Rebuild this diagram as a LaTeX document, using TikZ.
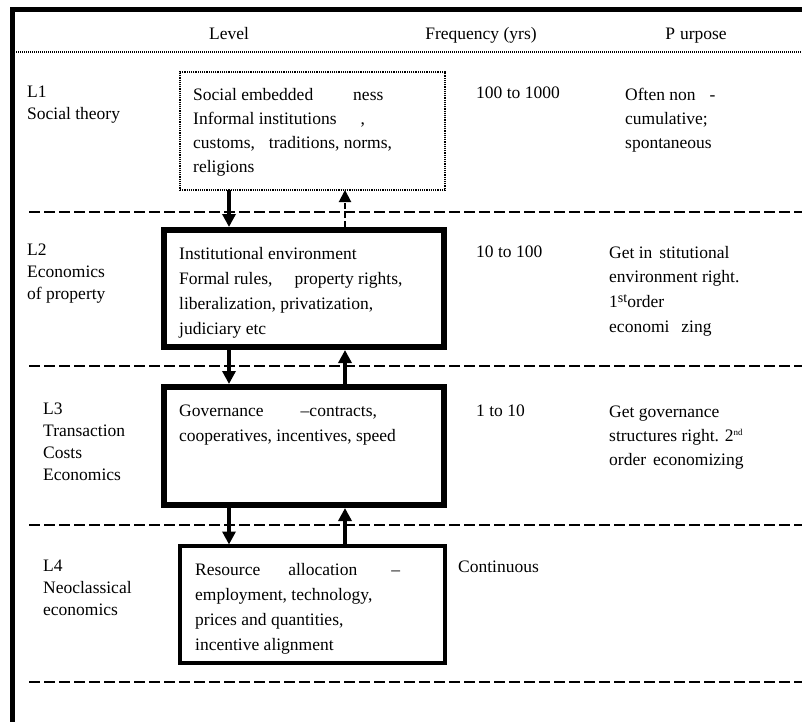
\documentclass[tikz,border=0pt]{standalone}
\usepackage{fontspec}
\setmainfont{Liberation Serif}
\usetikzlibrary{arrows.meta}
\begin{document}
\begin{tikzpicture}[x=1pt,y=-1pt,
  txt/.style={anchor=base west, inner sep=0pt, align=left, font=\fontsize{17.5}{24}\selectfont},
  mtxt/.style={anchor=north west, inner sep=0pt, align=left, font=\fontsize{17.5}{24}\selectfont},
  lbl/.style={anchor=north west, inner sep=0pt, align=left, font=\fontsize{17.5}{22}\selectfont},
  boxtxt/.style={anchor=north west, inner sep=0pt, align=left, font=\fontsize{17.5}{25}\selectfont},
  purp/.style={anchor=north west, inner sep=0pt, align=left, font=\fontsize{17.5}{24.6}\selectfont},
  hdr/.style={anchor=base, inner sep=0pt, font=\fontsize{17.5}{21}\selectfont},
  sep/.style={line width=2.5pt, dash pattern=on 10.5pt off 4.5pt},
  frame/.style={line width=4.5pt},
  thickbox/.style={draw, line width=6pt, inner sep=0pt, outer sep=0pt, anchor=north west},
  thinbox/.style={draw, line width=3.5pt, inner sep=0pt, outer sep=0pt, anchor=north west},
  dotbox/.style={draw, line width=1.3pt, dash pattern=on 1.2pt off 1pt, inner sep=0pt, outer sep=0pt, anchor=north west},
  arr/.style={line width=4pt, -{Triangle[length=13pt,width=13pt]}},
  darr/.style={line width=2pt, dash pattern=on 6pt off 3pt, -{Triangle[length=12pt,width=12pt]}}
]
\useasboundingbox (0,0) rectangle (802,722);

% frame
\draw[frame] (802,9.5) -- (12.5,9.5) -- (12.5,722);
% header rule
\draw[line width=1.5pt, dash pattern=on 1pt off 1pt] (12,52) -- (802,52);
% separators
\draw[sep] (29,212) -- (802,212);
\draw[sep] (29,366) -- (802,366);
\draw[sep] (29,525) -- (802,525);
\draw[sep] (29,682) -- (802,682);

% header
\node[hdr] (hLevel) at (229,40) {Level};
\node[hdr] (hFreq) at (481,40) {Frequency (yrs)};
\node[hdr] (hPurp) at (696,40) {P\hspace{5pt}urpose};

% boxes
\node[dotbox, minimum width=265pt, minimum height=118pt] (b1) at (180,72) {};
\node[thickbox, minimum width=280pt, minimum height=117pt] (b2) at (164,230) {};
\node[thickbox, minimum width=280pt, minimum height=118pt] (b3) at (164,387) {};
\node[thinbox, minimum width=265pt, minimum height=117pt] (b4) at (180,546) {};

% row 1
\node[lbl] (l1) at (27,86) {L1\\Social theory};
\node[mtxt] (t1) at (193,88) {Social embedded\hspace{40pt}ness\\Informal institutions\hspace{24pt},\\customs,\hspace{14pt}traditions, norms,\\religions};
\node[txt] (f1) at (476,99) {100 to 1000};
\node[mtxt] (p1) at (625,88) {Often non\hspace{14pt}-\\cumulative;\\spontaneous};

% row 2
\node[lbl] (l2) at (27,244) {L2\\Economics\\of property};
\node[boxtxt] (t2) at (179,247) {Institutional environment\\Formal rules,\hspace{22pt}property rights,\\liberalization, privatization,\\judiciary etc};
\node[txt] (f2) at (476,257) {10 to 100};
\node[purp] (p2) at (609,246) {Get in\hspace{7pt}stitutional\\environment right.\\1\raisebox{5pt}{\fontsize{14}{14}\selectfont st}order\\economi\hspace{12pt}zing};

% row 3
\node[lbl] (l3) at (43,403) {L3\\Transaction\\Costs\\Economics};
\node[boxtxt] (t3) at (179,405) {Governance\hspace{37pt}–contracts,\\cooperatives, incentives, speed};
\node[txt] (f3) at (476,416) {1 to 10};
\node[mtxt] (p3) at (609,406) {Get governance\\structures right. 2\raisebox{6pt}{\fontsize{9}{9}\selectfont nd}\\order\hspace{7pt}economizing};

% row 4
\node[lbl] (l4) at (43,560) {L4\\Neoclassical\\economics};
\node[boxtxt] (t4) at (195,563) {Resource\hspace{28pt}allocation\hspace{34pt}–\\employment, technology,\\prices and quantities,\\incentive alignment};
\node[txt] (f4) at (458,572) {Continuous};

% arrows
\coordinate (ca) at (229,0);
\coordinate (cb) at (345,0);
\draw[arr, shorten >=3pt] (b1.south -| ca) -- (b2.north -| ca);
\draw[darr, shorten <=3pt] (b2.north -| cb) -- (b1.south -| cb);
\draw[arr, shorten >=3pt, shorten <=3pt] (b2.south -| ca) -- (b3.north -| ca);
\draw[arr, shorten >=3pt, shorten <=3pt] (b3.north -| cb) -- (b2.south -| cb);
\draw[arr, shorten >=1.5pt, shorten <=3pt] (b3.south -| ca) -- (b4.north -| ca);
\draw[arr, shorten >=3pt, shorten <=1.5pt] (b4.north -| cb) -- (b3.south -| cb);
\end{tikzpicture}
\end{document}
